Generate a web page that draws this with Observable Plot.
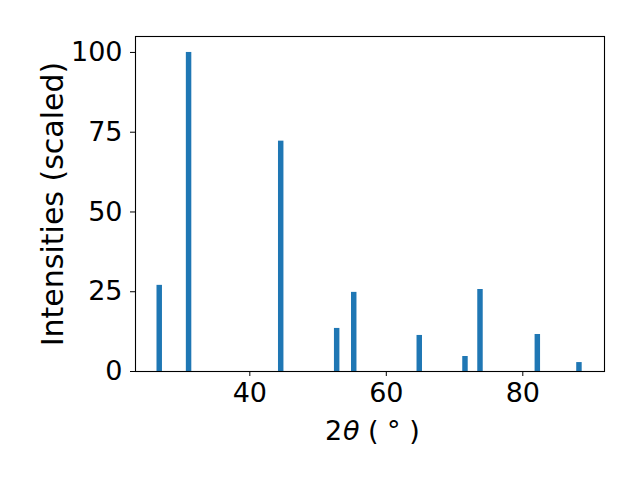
<!DOCTYPE html>
<html>
<head>
<meta charset="utf-8">
<script src="https://cdn.jsdelivr.net/npm/d3@7"></script>
<script src="https://cdn.jsdelivr.net/npm/@observablehq/plot@0.6"></script>
<style>
  html, body { margin: 0; padding: 0; background: #fff; }
</style>
</head>
<body>
<div id="chart"></div>
<script>
const twoTheta = [26.8, 31.1, 44.6, 52.8, 55.3, 64.9, 71.6, 73.8, 82.2, 88.3];
const intensities = [27, 100, 72.2, 13.5, 24.8, 11.3, 4.7, 25.7, 11.6, 2.8];
const xTicks = [40, 60, 80];
const yTicks = [0, 25, 50, 75, 100];
const xLabelParts = ["2", "θ", "( ° )"];
const yLabel = "Intensities (scaled)";

const data = twoTheta.map((x, i) => ({x, y: intensities[i]}));
const barHalf = 0.4;
const labelStyle = {frameAnchor: "bottom", dy: 60, textAnchor: "start", lineAnchor: "middle", fontSize: 27, fill: "black"};

const chart = Plot.plot({
  width: 640,
  height: 480,
  marginLeft: 135,
  marginRight: 36,
  marginTop: 36,
  marginBottom: 109,
  style: {fontFamily: "DejaVu Sans", background: "#fff", color: "black"},
  x: {domain: [23.25, 91.97]},
  y: {domain: [0, 105]},
  marks: [
    Plot.rectY(data, {x1: d => d.x - barHalf, x2: d => d.x + barHalf, y1: 0, y2: "y", fill: "#1f77b4"}),
    Plot.axisX({ticks: xTicks, tickSize: 5, tickPadding: 6, fontSize: 27, label: null, tickFormat: d => String(d)}),
    Plot.axisY({ticks: yTicks, tickSize: 5, tickPadding: 8, fontSize: 27, label: null, tickFormat: d => String(d)}),
    Plot.frame({stroke: "black", strokeWidth: 1.1}),
    Plot.text([xLabelParts[0]], {...labelStyle, dx: -45}),
    Plot.text([xLabelParts[1]], {...labelStyle, dx: -27, fontStyle: "italic"}),
    Plot.text([xLabelParts[2]], {...labelStyle, dx: -2}),
    Plot.text([yLabel], {frameAnchor: "left", dx: -82, rotate: -90, textAnchor: "middle", lineAnchor: "middle", fontSize: 30, fill: "black"})
  ]
});
document.getElementById("chart").append(chart);
</script>
</body>
</html>
